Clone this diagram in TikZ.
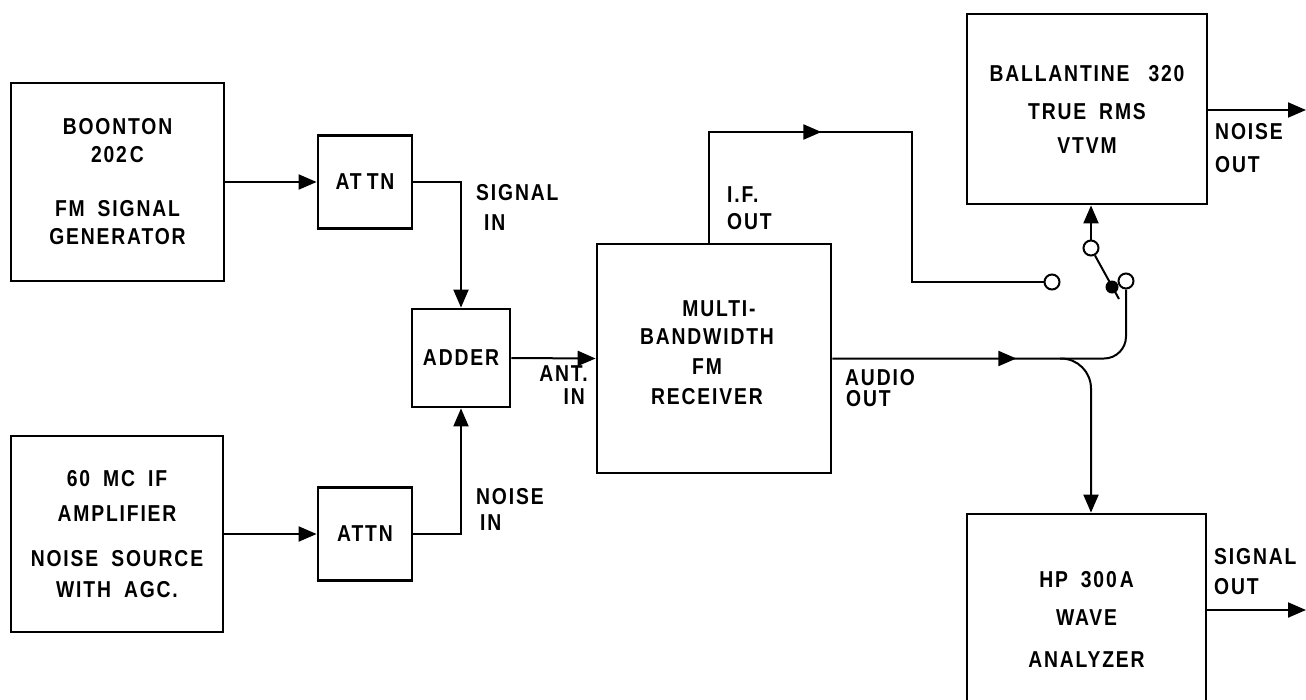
\documentclass[tikz,border=0pt]{standalone}
\usepackage{fontspec}
\newfontfamily\lblfont{Liberation Sans}[FakeStretch=0.84, LetterSpace=8, WordSpace=1.8]
\usetikzlibrary{arrows.meta,decorations.markings}
\tikzset{
  lbl/.style={font=\lblfont\bfseries\fontsize{23}{28}\selectfont, inner sep=0pt},
  blk/.style={draw, line width=2.8pt, lbl, align=center},
  wire/.style={line width=2pt},
  arrowend/.style={-{Triangle[length=18pt,width=15pt]}},
  midtip/.style={postaction={decorate}, decoration={markings, mark=at position #1 with {\arrow{Triangle[length=18pt,width=15pt]}}}},
  jack/.style={circle, draw, line width=2pt, fill=white, minimum size=15pt, inner sep=0pt},
}
\begin{document}
\begin{tikzpicture}[x=1pt,y=-1pt]
\useasboundingbox[fill=white] (0,0) rectangle (1306,699);
% blocks
\node[blk, minimum width=213pt, minimum height=198pt] (gen) at (117.5,182) {BOONTON\\202\kern3pt C\\[26pt]FM SIGNAL\\GENERATOR};
\node[blk, minimum width=94pt, minimum height=93pt] (att1) at (365,182) {AT\kern5pt TN};
\node[blk, minimum width=212pt, minimum height=196pt] (src) at (117,534) {60 MC IF\\[7pt]AMPLIFIER\\[17pt]NOISE SOURCE\\[3pt]WITH AGC.};
\node[blk, minimum width=94pt, minimum height=93pt] (att2) at (365,534) {ATTN};
\node[blk, minimum width=98pt, minimum height=98pt] (add) at (461,358) {ADDER};
\node[blk, minimum width=234pt, minimum height=229pt,
  label={[lbl, align=center, xshift=-7pt, yshift=5.5pt]center:{\hspace*{24pt}MULTI-\\BANDWIDTH\\[2pt]FM\\[2pt]RECEIVER}}] (rx) at (714,358.5) {};
\node[blk, minimum width=240pt, minimum height=190pt] (vtvm) at (1087,109) {BALLANTINE\hspace{6pt} 320\\[10pt]TRUE RMS\\[6pt]VTVM};
\node[blk, minimum width=239pt, minimum height=210pt] (wave) at (1086.5,619) {HP 300\kern3pt A\\[10pt]WAVE\\[14pt]ANALYZER};
% switch terminals
\node[jack] (s1) at (1091,248) {};
\node[jack] (s2) at (1052,282) {};
\node[jack] (s3) at (1126,281) {};
% helper coordinates
\coordinate (ifup) at (709,132);
\coordinate (ifright) at (912,132);
\coordinate (br) at (1060,358.5);
\coordinate (nout) at (1306,110);
\coordinate (sout) at (1306,610);
% connectors
\draw[wire, arrowend] (gen.east) -- (att1.west);
\draw[wire, arrowend] (att1.east) -| (add.north);
\draw[wire, arrowend] (src.east) -- (att2.west);
\draw[wire, arrowend] (att2.east) -| (add.south);
\draw[wire, arrowend] (add.east) -- (rx.west);
\draw[wire, midtip=223pt] (rx.north -| ifup) -- (ifup) -- (ifright) |- (s2.west);
\draw[wire, midtip=184pt, rounded corners=22pt] (rx.east) -| (s3.south);
\draw[wire, arrowend, rounded corners=30pt] (br) -| (s1 |- wave.north);
\draw[wire, arrowend] (s1.north) -- (s1 |- vtvm.south);
\draw[wire] (s1.-62) -- (1119,299);
\fill (1112,287) circle (6.5pt);
\draw[wire, arrowend] (vtvm.east |- nout) -- (nout);
\draw[wire, arrowend] (wave.east |- sout) -- (sout);
% labels
\node[lbl, anchor=west] (lsig) at (476,193) {SIGNAL};
\node[lbl, anchor=west] (lsigin) at (484,223) {IN};
\node[lbl, anchor=west] (lnoi) at (476,497) {NOISE};
\node[lbl, anchor=west] (lnoiin) at (480,523) {IN};
\node[lbl, anchor=east] (lant) at (588,374) {ANT.};
\node[lbl, anchor=east] (lantin) at (585,397) {IN};
\node[lbl, anchor=west] (lif) at (727,195) {I.F.};
\node[lbl, anchor=west] (lifo) at (727,222) {OUT};
\node[lbl, anchor=west] (lau) at (845,378) {AUDIO};
\node[lbl, anchor=west] (lauo) at (846,399) {OUT};
\node[lbl, anchor=west] (lno) at (1215,132) {NOISE};
\node[lbl, anchor=west] (lnoo) at (1215,165) {OUT};
\node[lbl, anchor=west] (lso) at (1214,557) {SIGNAL};
\node[lbl, anchor=west] (lsoo) at (1214,587) {OUT};
\end{tikzpicture}
\end{document}
